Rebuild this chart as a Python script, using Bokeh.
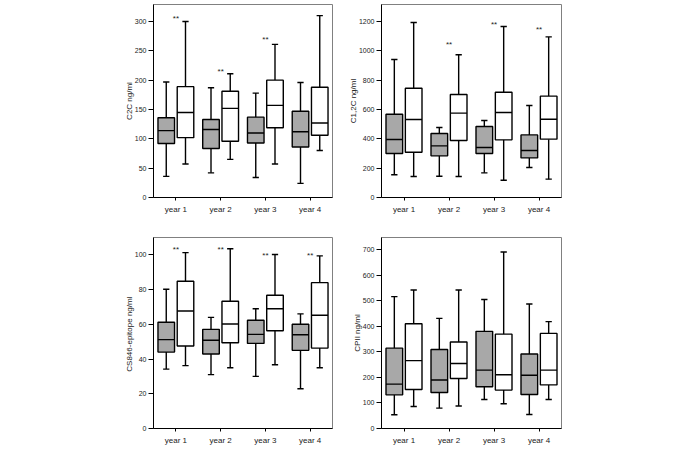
import numpy as np
from bokeh.plotting import figure
from bokeh.models import Range1d, FixedTicker, ColumnDataSource
from bokeh.layouts import column, row
from bokeh.core.properties import value
from bokeh.embed import file_html
from bokeh.resources import INLINE

years = ["year 1", "year 2", "year 3", "year 4"]

# C2C ng/ml
c2c_gray_lo = [36, 42, 34, 24]
c2c_gray_q1 = [92, 83.5, 93, 86]
c2c_gray_med = [114, 116, 110, 112]
c2c_gray_q3 = [136, 133, 137, 147]
c2c_gray_hi = [197, 187, 178, 196]
c2c_white_lo = [57, 65, 57, 80]
c2c_white_q1 = [102, 96, 119, 106]
c2c_white_med = [145, 152, 157, 127]
c2c_white_q3 = [189, 181, 200, 188]
c2c_white_hi = [300, 211, 261, 310]
c2c_star_years = ["year 1", "year 2", "year 3"]
c2c_star_y = [305, 215, 269]

# C1,2C ng/ml
c12c_gray_lo = [155, 145, 168, 205]
c12c_gray_q1 = [300, 284, 300, 270]
c12c_gray_med = [395, 352, 341, 320]
c12c_gray_q3 = [568, 436, 484, 427]
c12c_gray_hi = [941, 477, 525, 627]
c12c_white_lo = [143, 143, 118, 125]
c12c_white_q1 = [309, 389, 393, 398]
c12c_white_med = [532, 575, 580, 534]
c12c_white_q3 = [745, 702, 718, 691]
c12c_white_hi = [1193, 973, 1166, 1095]
c12c_star_years = ["year 2", "year 3", "year 4"]
c12c_star_y = [1040, 1183, 1144]

# CS846-epitope ng/ml
cs846_gray_lo = [34.2, 31, 30, 22.9]
cs846_gray_q1 = [44, 42.9, 49, 45]
cs846_gray_med = [51.2, 50.8, 54.2, 54]
cs846_gray_q3 = [61.2, 57.1, 62.3, 60]
cs846_gray_hi = [80.2, 64, 69, 66]
cs846_white_lo = [36.2, 35, 36.7, 35]
cs846_white_q1 = [47.5, 49.4, 56.3, 46.3]
cs846_white_med = [67.7, 60.2, 69, 65.2]
cs846_white_q3 = [84.8, 73.3, 76.7, 84]
cs846_white_hi = [101.3, 103.5, 100.2, 99.4]
cs846_star_years = ["year 1", "year 2", "year 3", "year 4"]
cs846_star_y = [103.3, 103.3, 99.9, 99.7]

# CPII ng/ml
cpii_gray_lo = [54, 80, 114, 55]
cpii_gray_q1 = [132, 141, 164, 133.5]
cpii_gray_med = [174, 190, 229, 209]
cpii_gray_q3 = [315, 310, 381, 292]
cpii_gray_hi = [517, 432, 506, 488]
cpii_white_lo = [86, 88, 97, 114]
cpii_white_q1 = [153, 196, 150.5, 171]
cpii_white_med = [266, 255, 211, 229]
cpii_white_q3 = [411, 339, 370, 373]
cpii_white_hi = [543, 543, 692, 419]
cpii_star_years = []
cpii_star_y = []

FONT = "Liberation Sans"
GRAY = "#a8a8a8"
BOX_W = 0.37
CAP_W = 0.14
OFFSET = 0.215
LW = 1.4


def draw_group(p, offset, fill, lo, q1, med, q3, hi):
    x = np.arange(len(years)) + 0.5 + offset
    src = ColumnDataSource(dict(
        x=x, lo=lo, q1=q1, med=med, q3=q3, hi=hi,
        cl=x - CAP_W / 2, cr=x + CAP_W / 2,
        bl=x - BOX_W / 2, br=x + BOX_W / 2,
    ))
    p.segment(x0="x", y0="q3", x1="x", y1="hi", source=src, line_color="black", line_width=LW)
    p.segment(x0="x", y0="q1", x1="x", y1="lo", source=src, line_color="black", line_width=LW)
    p.segment(x0="cl", y0="hi", x1="cr", y1="hi", source=src, line_color="black", line_width=LW)
    p.segment(x0="cl", y0="lo", x1="cr", y1="lo", source=src, line_color="black", line_width=LW)
    p.vbar(x="x", width=BOX_W, top="q3", bottom="q1", source=src,
           fill_color=fill, line_color="black", line_width=LW)
    p.segment(x0="bl", y0="med", x1="br", y1="med", source=src, line_color="black", line_width=LW)


def make_panel(ylabel, ymax, yticks, gray, white, star_years, star_y,
               width, height, bl, br, bt, bb):
    p = figure(width=width, height=height, x_range=Range1d(0, 4), y_range=Range1d(0, ymax),
               output_backend="svg", toolbar_location=None, tools="",
               min_border_left=bl, min_border_right=br, min_border_top=bt, min_border_bottom=bb)
    p.xgrid.grid_line_color = None
    p.ygrid.grid_line_color = None
    p.outline_line_color = "#808080"
    p.outline_line_width = 1
    p.background_fill_color = "white"
    p.border_fill_color = "white"

    draw_group(p, -OFFSET, GRAY, *gray)
    draw_group(p, OFFSET, "white", *white)

    if star_years:
        sx = [years.index(s) + 0.5 for s in star_years]
        p.text(x=sx, y=star_y, text=["**"] * len(sx), text_font=value(FONT),
               text_font_size="8px", text_align="center", text_baseline="alphabetic",
               text_color="#222222")

    xa = p.xaxis[0]
    xa.ticker = FixedTicker(ticks=[i + 0.5 for i in range(len(years))])
    xa.major_label_overrides = {i + 0.5: y for i, y in enumerate(years)}
    xa.major_label_text_font = FONT
    xa.major_label_text_font_size = "8px"
    xa.major_label_text_color = "#222222"
    xa.major_tick_out = 3
    xa.major_tick_in = 0
    xa.minor_tick_line_color = None
    xa.major_label_standoff = 4
    xa.axis_line_color = "black"

    ya = p.yaxis[0]
    ya.ticker = FixedTicker(ticks=yticks)
    ya.axis_label = ylabel
    ya.axis_label_text_font = FONT
    ya.axis_label_text_font_size = "8px"
    ya.axis_label_text_font_style = "normal"
    ya.axis_label_text_color = "#222222"
    ya.axis_label_standoff = -2
    ya.major_label_text_font = FONT
    ya.major_label_text_font_size = "7px"
    ya.major_label_text_color = "#222222"
    ya.major_tick_out = 5
    ya.major_tick_in = 0
    ya.minor_tick_line_color = None
    ya.major_label_standoff = 2
    ya.axis_line_color = "black"
    return p


p1 = make_panel("C2C ng/ml", 329, [0, 50, 100, 150, 200, 250, 300],
                (c2c_gray_lo, c2c_gray_q1, c2c_gray_med, c2c_gray_q3, c2c_gray_hi),
                (c2c_white_lo, c2c_white_q1, c2c_white_med, c2c_white_q3, c2c_white_hi),
                c2c_star_years, c2c_star_y, 340, 237, 153, 8, 4, 40)
p2 = make_panel("C1,2C ng/ml", 1316, [0, 200, 400, 600, 800, 1000, 1200],
                (c12c_gray_lo, c12c_gray_q1, c12c_gray_med, c12c_gray_q3, c12c_gray_hi),
                (c12c_white_lo, c12c_white_q1, c12c_white_med, c12c_white_q3, c12c_white_hi),
                c12c_star_years, c12c_star_y, 231, 237, 41, 10, 4, 40)
p3 = make_panel("CS846-epitope  ng/ml", 110, [0, 20, 40, 60, 80, 100],
                (cs846_gray_lo, cs846_gray_q1, cs846_gray_med, cs846_gray_q3, cs846_gray_hi),
                (cs846_white_lo, cs846_white_q1, cs846_white_med, cs846_white_q3, cs846_white_hi),
                cs846_star_years, cs846_star_y, 340, 211, 153, 8, 0, 20)
p4 = make_panel("CPII ng/ml", 749, [0, 100, 200, 300, 400, 500, 600, 700],
                (cpii_gray_lo, cpii_gray_q1, cpii_gray_med, cpii_gray_q3, cpii_gray_hi),
                (cpii_white_lo, cpii_white_q1, cpii_white_med, cpii_white_q3, cpii_white_hi),
                cpii_star_years, cpii_star_y, 231, 211, 41, 10, 0, 20)

layout = column(row(p1, p2), row(p3, p4))
open("out.html", "w").write(file_html(layout, INLINE))
